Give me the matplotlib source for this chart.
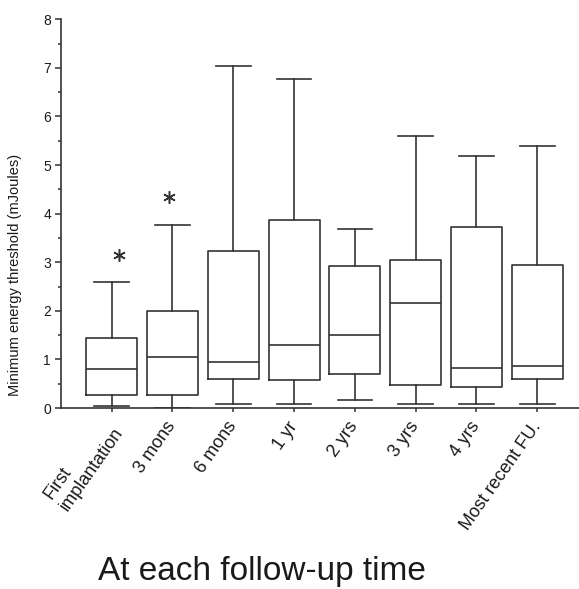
import matplotlib

matplotlib.use("Agg")
import matplotlib.pyplot as plt
from matplotlib.ticker import MultipleLocator

# values (mJoules)
categories = ["First\nimplantation", "3 mons", "6 mons", "1 yr", "2 yrs",
              "3 yrs", "4 yrs", "Most recent FU."]
whisker_low = [0.04, 0.00, 0.09, 0.08, 0.17, 0.08, 0.08, 0.09]
q1 = [0.26, 0.26, 0.59, 0.58, 0.71, 0.48, 0.43, 0.59]
median = [0.80, 1.06, 0.94, 1.29, 1.50, 2.17, 0.83, 0.86]
q3 = [1.45, 2.00, 3.24, 3.86, 2.92, 3.04, 3.72, 2.94]
whisker_high = [2.59, 3.76, 7.03, 6.78, 3.69, 5.59, 5.18, 5.40]

# significance asterisks
star_pos = [1.12, 1.94]
star_val = [3.15, 4.35]

y_ticks = list(range(0, 9))

_LINE = "#333333"
_TEXT = "#1a1a1a"

plt.rcParams["font.family"] = ["Liberation Sans", "DejaVu Sans"]

fig = plt.figure(figsize=(5.79, 5.89), dpi=100)
ax = fig.add_axes([0.1048, 0.3073, 0.8952, 0.6599])

stats = [
    dict(label=c, whislo=lo, q1=a, med=m, q3=b, whishi=hi, fliers=[])
    for c, lo, a, m, b, hi in zip(categories, whisker_low, q1, median, q3, whisker_high)
]
positions = list(range(1, len(categories) + 1))
line_kw = dict(color=_LINE, linewidth=1.2)
ax.bxp(
    stats,
    positions=positions,
    widths=0.84,
    capwidths=0.57,
    showfliers=False,
    boxprops=line_kw,
    medianprops=line_kw,
    whiskerprops=line_kw,
    capprops=line_kw,
)

ax.plot(star_pos, star_val, linestyle="none", marker=(6, 2, 0),
        markersize=9, markeredgewidth=1.1, color=_LINE)

ax.set_xlim(0.161, 8.686)
ax.set_ylim(0, 8)
ax.set_yticks(y_ticks)
ax.yaxis.set_minor_locator(MultipleLocator(0.5))
ax.set_xticks(positions)
ax.set_xticklabels(categories, rotation=55, ha="right", va="center",
                   rotation_mode="anchor", multialignment="left",
                   fontsize=13, color=_TEXT)

ax.tick_params(axis="y", which="major", length=4, width=1.1, pad=3,
               labelsize=10, colors=_LINE, labelcolor=_TEXT)
ax.tick_params(axis="y", which="minor", length=2.5, width=1.1, colors=_LINE)
ax.tick_params(axis="x", length=3, width=1.1, pad=8, colors=_LINE,
               labelcolor=_TEXT)

for side in ("top", "right"):
    ax.spines[side].set_visible(False)
for side in ("left", "bottom"):
    ax.spines[side].set_color(_LINE)
    ax.spines[side].set_linewidth(1.2)

ax.set_ylabel("Minimum energy threshold (mJoules)", fontsize=10.5, color=_TEXT)
ax.yaxis.set_label_coords(-0.075, 0.342)

fig.text(261.5 / 579, 1 - 580 / 589, "At each follow-up time", fontsize=24,
         ha="center", va="baseline", color=_TEXT)

fig.savefig("out.png", dpi=100)
